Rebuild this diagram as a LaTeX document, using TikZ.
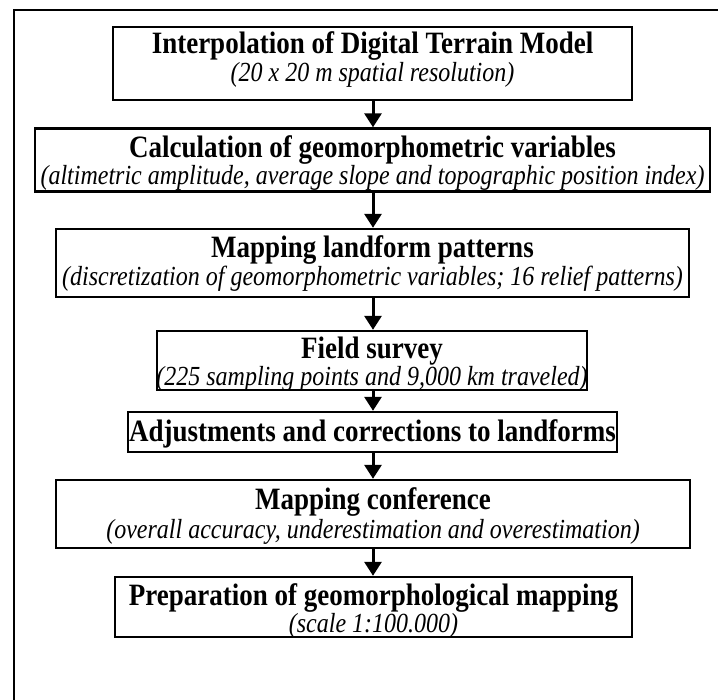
\documentclass[tikz,border=0pt]{standalone}
\usepackage{fontspec}
\setmainfont{Liberation Serif}
\usetikzlibrary{arrows.meta}
\newcommand{\ttlfont}{\fontsize{27}{30}\selectfont\bfseries}
\newcommand{\subfont}{\fontsize{24}{28}\selectfont\itshape}
\newcommand{\tallify}[1]{\scalebox{1}[1.15]{#1}}
\begin{document}
\begin{tikzpicture}[x=1pt,y=-1pt,
  box/.style={draw=black,line width=2.4pt,inner sep=0pt},
  ttl/.style={anchor=base,inner sep=0pt,font=\ttlfont},
  sub/.style={anchor=base,inner sep=0pt,font=\subfont},
  flow/.style={line width=3pt,-{Triangle[width=17pt,length=14pt]}}]
\clip (0,0) rectangle (718,700);
\fill[white] (0,0) rectangle (718,700);
\draw[line width=2.6pt] (14,760) -- (14,10) -- (760,10);
% boxes
\node[box,minimum width=519pt,minimum height=73pt] (b1) at (372.5,63.5) {};
\node[box,minimum width=675pt,minimum height=63pt] (b2) at (372.5,160) {};
\node[box,minimum width=633pt,minimum height=68pt] (b3) at (372.5,263) {};
\node[box,minimum width=430pt,minimum height=59pt] (b4) at (372,360.5) {};
\node[box,minimum width=489pt,minimum height=40pt] (b5) at (372.5,432) {};
\node[box,minimum width=634pt,minimum height=68pt] (b6) at (373,514) {};
\node[box,minimum width=517pt,minimum height=60pt] (b7) at (373.5,607) {};
% texts
\node[ttl] (t1) at (372.5,54) {\tallify{Interpolation of Digital Terrain Model}};
\node[sub] (s1) at (372.5,82) {\tallify{(20 x 20 m spatial resolution)}};
\node[ttl] (t2) at (372.5,158) {\tallify{Calculation of geomorphometric variables}};
\node[sub] (s2) at (372.5,185) {\tallify{(altimetric amplitude, average slope and topographic position index)}};
\node[ttl] (t3) at (372.5,258) {\tallify{Mapping landform patterns}};
\node[sub] (s3) at (372.5,286) {\tallify{(discretization of geomorphometric variables; 16 relief patterns)}};
\node[ttl] (t4) at (372,359) {\tallify{Field survey}};
\node[sub] (s4) at (372,386) {\tallify{(225 sampling points and 9,000 km traveled)}};
\node[ttl] (t5) at (372.5,442) {\tallify{Adjustments and corrections to landforms}};
\node[ttl] (t6) at (373,510) {\tallify{Mapping conference}};
\node[sub] (s6) at (373,539) {\tallify{(overall accuracy, underestimation and overestimation)}};
\node[ttl] (t7) at (373.5,605) {\tallify{Preparation of geomorphological mapping}};
\node[sub] (s7) at (373.5,632) {\tallify{(scale 1:100.000)}};
% arrows
\draw[flow] (b1.south -| 373,0) -- (b2.north -| 373,0);
\draw[flow] (b2.south -| 373,0) -- (b3.north -| 373,0);
\draw[flow] (b3.south -| 373,0) -- (b4.north -| 373,0);
\draw[flow] (b4.south -| 373,0) -- (b5.north -| 373,0);
\draw[flow] (b5.south -| 373,0) -- (b6.north -| 373,0);
\draw[flow] (b6.south -| 373,0) -- (b7.north -| 373,0);
\end{tikzpicture}
\end{document}
